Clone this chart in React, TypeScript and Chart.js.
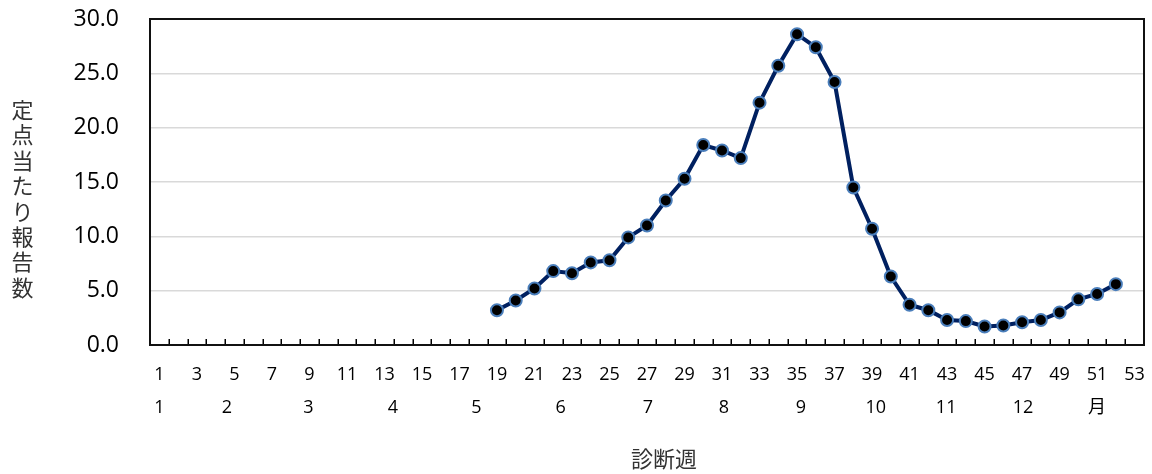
import React, { useEffect, useRef } from "react";
import { Chart, registerables } from "chart.js";

Chart.register(...registerables);

const weekLabels: string[] = Array.from({ length: 53 }, (_, i) => String(i + 1));
const firstWeek = 19;
const reportValues: number[] = [
  3.2, 4.1, 5.2, 6.8, 6.6, 7.6, 7.8, 9.9, 11.0, 13.3, 15.3, 18.4, 17.9, 17.2,
  22.3, 25.7, 28.6, 27.4, 24.2, 14.5, 10.7, 6.3, 3.7, 3.2, 2.3, 2.2, 1.7, 1.8,
  2.1, 2.3, 3.0, 4.2, 4.7, 5.6,
];
const monthLabels: string[] = ["1", "2", "3", "4", "5", "6", "7", "8", "9", "10", "11", "12", "月"];
const monthWeeks: number[] = [1, 4.6, 8.95, 13.45, 17.9, 22.4, 27.05, 31.1, 35.2, 39.2, 42.95, 47.05, 51.0];
const yTitle = "定点当たり報告数";
const xTitle = "診断週";

const seriesData: (number | null)[] = weekLabels.map((_, i) => {
  const k = i + 1 - firstWeek;
  return k >= 0 && k < reportValues.length ? reportValues[k] : null;
});

const DIGIT_FONT = "'Open Sans', 'Noto Sans CJK JP', sans-serif";
const CJK_FONT = "'Noto Sans CJK JP', 'Noto Sans', sans-serif";

const decorPlugin = {
  id: "decor",
  afterDraw(chart: any) {
    const { ctx, chartArea } = chart;
    const x2 = chart.scales.x2;
    ctx.save();
    // inward tick marks at category boundaries
    ctx.strokeStyle = "#000";
    ctx.lineWidth = 1.5;
    for (let k = 1; k < weekLabels.length; k++) {
      const px = Math.round(x2.getPixelForValue(k + 0.5)) + 0.25;
      ctx.beginPath();
      ctx.moveTo(px, chartArea.bottom);
      ctx.lineTo(px, chartArea.bottom - 6);
      ctx.stroke();
    }
    // frame
    ctx.lineWidth = 2;
    ctx.strokeStyle = "#111";
    ctx.strokeRect(chartArea.left, chartArea.top, chartArea.right - chartArea.left, chartArea.bottom - chartArea.top);
    // vertical y title
    ctx.fillStyle = "#333";
    ctx.font = `22px ${CJK_FONT}`;
    ctx.textAlign = "center";
    ctx.textBaseline = "middle";
    const chars = Array.from(yTitle);
    const step = 25.4;
    const cy = 198.5;
    chars.forEach((c, i) => {
      ctx.fillText(c, 22.5, cy + (i - (chars.length - 1) / 2) * step);
    });
    // x title
    const tx = chartArea.left + (chartArea.right - chartArea.left) * 0.517;
    ctx.fillText(xTitle, tx, 459);
    ctx.restore();
  },
};

export default function App() {
  const canvasRef = useRef<HTMLCanvasElement | null>(null);

  useEffect(() => {
    if (!canvasRef.current) return;
    const chart = new Chart(canvasRef.current, {
      type: "line",
      data: {
        labels: weekLabels,
        datasets: [
          {
            data: seriesData,
            borderColor: "#002060",
            borderWidth: 4,
            pointRadius: 6,
            pointHoverRadius: 6,
            pointBackgroundColor: "#000",
            pointBorderColor: "#4a7ebb",
            pointBorderWidth: 2,
            spanGaps: false,
            tension: 0,
          },
        ],
      },
      options: {
        animation: false,
        responsive: false,
        events: [],
        layout: { padding: { left: 45, top: 19, right: 7, bottom: 0 } },
        plugins: { legend: { display: false }, tooltip: { enabled: false } },
        scales: {
          y: {
            min: 0,
            max: 30,
            afterFit(scale: any) {
              scale.width = 105;
              scale.paddingTop = 0;
              scale.paddingBottom = 0;
            },
            ticks: {
              stepSize: 5,
              padding: 31,
              color: "#000",
              font: { family: DIGIT_FONT, size: 23 },
              callback: (v: any) => Number(v).toFixed(1),
            },
            grid: { color: "#d9d9d9", lineWidth: 1.5, drawTicks: false },
            border: { display: true, color: "#000", width: 2 },
          },
          x: {
            type: "category",
            position: "bottom",
            offset: true,
            weight: 0,
            afterFit(scale: any) {
              scale.height = 48;
              scale.paddingLeft = 0;
              scale.paddingRight = 0;
            },
            ticks: {
              autoSkip: false,
              maxRotation: 0,
              padding: 19,
              color: "#000",
              font: { family: DIGIT_FONT, size: 18 },
              callback: (_v: any, i: number) => (i % 2 === 0 ? weekLabels[i] : ""),
            },
            grid: { display: false, drawTicks: false, offset: true },
            border: { display: true, color: "#000", width: 2 },
          },
          x2: {
            type: "linear",
            position: "bottom",
            weight: 1,
            min: 0.5,
            max: weekLabels.length + 0.5,
            afterFit(scale: any) {
              scale.height = 81;
              scale.paddingLeft = 0;
              scale.paddingRight = 0;
            },
            afterBuildTicks(scale: any) {
              scale.ticks = monthWeeks.map((w) => ({ value: w }));
            },
            ticks: {
              autoSkip: false,
              maxRotation: 0,
              padding: 4,
              color: "#000",
              font: { family: DIGIT_FONT, size: 18 },
              callback: (v: any) => {
                const idx = monthWeeks.indexOf(Number(v));
                return idx >= 0 ? monthLabels[idx] : "";
              },
            },
            grid: { display: false, drawTicks: false },
            border: { display: false },
          },
        },
      },
      plugins: [decorPlugin],
    } as any);
    return () => chart.destroy();
  }, []);

  return (
    <div style={{ position: "absolute", left: 0, top: 0, width: 1152, height: 474, background: "#fff" }}>
      <canvas ref={canvasRef} width={1152} height={474} style={{ width: 1152, height: 474 }} />
    </div>
  );
}
